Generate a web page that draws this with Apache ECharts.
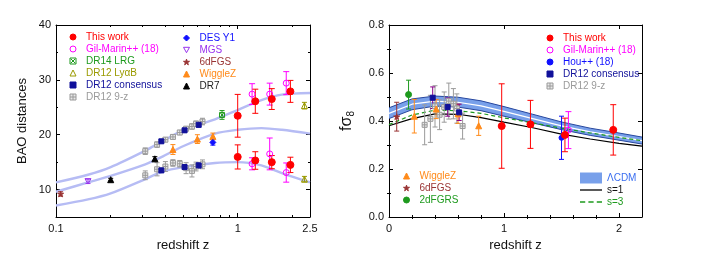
<!DOCTYPE html>
<html><head><meta charset="utf-8">
<script src="https://cdn.jsdelivr.net/npm/echarts@6/dist/echarts.min.js"></script>
<style>html,body{margin:0;padding:0;background:#fff}#c{width:704px;height:256px}</style>
</head><body><div id="c"></div>
<script>
var FONT = 'Liberation Sans, Arial, Helvetica, sans-serif';

// ---------- Left panel: BAO distances (z, value, error) ----------
var curveZ   = [0.1, 0.15, 0.2, 0.31, 0.38, 0.5, 0.75, 1.0, 1.35, 1.75, 2.5];
var curveTop = [11.3, 12.7, 14.1, 17.1, 18.7, 20.8, 22.8, 24.5, 26.3, 27.3, 27.6];
var curveMid = [9.6, 11.3, 12.5, 14.6, 15.9, 17.9, 20.2, 20.9, 21.2, 20.9, 20.2];
var curveBot = [7.1, 8.2, 9.3, 11.9, 13.2, 14.1, 14.85, 15.0, 14.4, 13.0, 11.3];

var thisWorkL = [[1.0,23.45,3.9],[1.25,26.1,2.2],[1.54,26.5,1.9],[1.95,27.9,2.0],
                 [1.0,15.95,2.2],[1.25,15.3,1.6],[1.54,15.0,1.2],[1.95,14.5,1.4]];
var gilMarinL = [[1.2,27.4,1.9],[1.5,27.4,2.0],[1.85,29.4,2.1],
                 [1.2,14.7,1.1],[1.5,16.5,2.9],[1.85,13.1,1.75]];
var dr14L     = [[0.82,23.6,0.8]];
var lyaL      = [[2.33,25.3,0.6],[2.33,11.9,0.5]];
var dr12consL = [[0.38,18.8,0.3],[0.51,20.8,0.35],[0.61,21.8,0.4],
                 [0.38,13.5,0.4],[0.51,14.1,0.4],[0.61,14.4,0.45]];
var dr12nzL   = [[0.31,17.0,0.6],[0.36,18.2,0.5],[0.40,19.1,0.4],[0.44,19.6,0.4],[0.48,20.4,0.4],
                 [0.52,21.1,0.4],[0.56,21.5,0.5],[0.59,22.0,0.5],[0.64,22.4,0.6],
                 [0.31,12.6,0.8],[0.36,13.7,1.2],[0.40,14.2,0.9],[0.44,14.85,0.6],[0.48,14.7,0.6],
                 [0.52,13.9,1.0],[0.56,13.4,1.1],[0.59,14.2,0.8],[0.64,14.6,0.8]];
var desL      = [[0.73,18.6,0.5]];
var mgsL      = [[0.15,11.5,0.4]];
var sixdfL    = [[0.106,9.2,0.4]];
var wiggleL   = [[0.44,17.3,0.9],[0.60,19.2,0.8],[0.73,19.7,0.6]];
var dr7L      = [[0.2,11.8,0.25],[0.35,15.6,0.4]];

var leftXLabels = [0.1, 1, 2.5];
var leftXMajor  = [0.1, 1];
var leftXMinor  = [0.2,0.3,0.4,0.5,0.6,0.7,0.8,0.9,2];
var leftYLabels = [10, 20, 30, 40];
var leftYMinor  = [5, 15, 25, 35];

// ---------- Right panel: f sigma8 ----------
var modelZ  = [0, 0.2, 0.4, 0.6, 0.8, 1.0, 1.25, 1.5, 1.75, 2.0, 2.2];
var lcdmLo  = [0.410, 0.447, 0.462, 0.458, 0.443, 0.420, 0.392, 0.364, 0.340, 0.320, 0.304];
var lcdmMid = [0.432, 0.470, 0.483, 0.478, 0.463, 0.440, 0.410, 0.380, 0.355, 0.335, 0.318];
var lcdmHi  = [0.455, 0.492, 0.504, 0.499, 0.484, 0.460, 0.428, 0.396, 0.370, 0.350, 0.333];
var s1Line  = [0.380, 0.410, 0.430, 0.428, 0.414, 0.395, 0.372, 0.345, 0.325, 0.307, 0.295];
var s3Line  = [0.385, 0.425, 0.445, 0.443, 0.432, 0.413, 0.392, 0.370, 0.350, 0.332, 0.318];

var thisWorkR = [[0.98,0.379,0.176],[1.23,0.386,0.10],[1.53,0.342,0.07],[1.95,0.363,0.105]];
var gilMarinR = [[1.56,0.362,0.077]];
var houR      = [[1.50,0.330,0.09]];
var dr12consR = [[0.38,0.497,0.045],[0.51,0.458,0.038],[0.61,0.436,0.034]];
var dr12nzR   = [[0.31,0.384,0.083],[0.36,0.409,0.098],[0.40,0.461,0.086],[0.44,0.426,0.062],[0.48,0.458,0.063],
                 [0.52,0.483,0.075],[0.56,0.472,0.063],[0.59,0.452,0.061],[0.64,0.379,0.054]];
var wiggleR   = [[0.22,0.42,0.07],[0.41,0.45,0.04],[0.60,0.43,0.04],[0.78,0.38,0.04]];
var sixdfR    = [[0.067,0.418,0.06]];
var twodfR    = [[0.17,0.51,0.06]];

var rightXLabels = [0, 1, 2];
var rightXMajor  = [1, 2];
var rightXMinor  = [0.2,0.4,0.6,0.8,1.2,1.4,1.6,1.8];
var rightYLabels = [0, 0.2, 0.4, 0.6, 0.8];
var rightYMajor  = [0.2, 0.4, 0.6];
var rightYMinor  = [0.1, 0.3, 0.5, 0.7];

// ---------- colours / symbols ----------
var C = {red:'#ff0000', mag:'#ff00ff', green:'#1e9a1e', olive:'#9a9a00', navy:'#10109a', gray:'#9a9a9a',
         blue:'#1010ff', purple:'#9933ee', brown:'#993333', orange:'#ff8a1a', black:'#000000', cons:'#880088'};
var P_SQX  = 'path://M0,0L10,0L10,10L0,10Z M1.5,1.5L8.5,8.5 M8.5,1.5L1.5,8.5';
var P_SQP  = 'path://M0,0L10,0L10,10L0,10Z M5,0L5,10 M0,5L10,5';
var P_TDN  = 'path://M0,0L10,0L5,9Z';
var P_STAR = 'path://M5,0L6.2,3.6L10,3.6L6.9,5.8L8.1,9.5L5,7.2L1.9,9.5L3.1,5.8L0,3.6L3.8,3.6Z';
var P_LINE = 'path://M0,0L22,0L22,1.3L0,1.3Z';
var P_DASH = 'path://M0,0L5,0L5,1.3L0,1.3Z M8,0L13,0L13,1.3L8,1.3Z M16,0L21,0L21,1.3L16,1.3Z';
var TRANSP = 'rgba(255,255,255,0)';

function xy(arr){ return arr.map(function(d){ return [d[0], d[1]]; }); }

function errSeries(arr, color, xi, yi, cap){
  return {type:'custom', xAxisIndex:xi, yAxisIndex:yi, silent:true, z:3, animation:false,
    data: arr, encode:{x:0, y:1},
    renderItem: function(params, api){
      var x = api.value(0), y = api.value(1), e = api.value(2);
      var a = api.coord([x, y + e]), b = api.coord([x, y - e]), h = cap/2;
      var st = {stroke: color, lineWidth: 1};
      return {type:'group', children:[
        {type:'line', shape:{x1:a[0], y1:a[1], x2:b[0], y2:b[1]}, style:st},
        {type:'line', shape:{x1:a[0]-h, y1:a[1], x2:a[0]+h, y2:a[1]}, style:st},
        {type:'line', shape:{x1:b[0]-h, y1:b[1], x2:b[0]+h, y2:b[1]}, style:st}
      ]};
    }};
}
function scat(name, arr, sym, size, fill, stroke, xi, yi){
  return {type:'scatter', name:name, xAxisIndex:xi, yAxisIndex:yi, z:4, symbol:sym, symbolSize:size,
    symbolKeepAspect:true, data: xy(arr),
    itemStyle:{color:fill, borderColor:stroke, borderWidth:1, opacity:1}};
}
function dataset(name, arr, sym, size, fill, stroke, xi, yi, errColor, cap){
  return [errSeries(arr, errColor || stroke, xi, yi, cap || 5), scat(name, arr, sym, size, fill, stroke, xi, yi)];
}

// ---------- axes ----------
function axes(gi, dim, c){
  var lineSt = {color:'#000', width:1};
  var base = {gridIndex:gi, type:c.type, min:c.min, max:c.max, splitLine:{show:false}};
  if (c.type === 'log') base.logBase = 10;
  var pos1 = dim === 'x' ? 'bottom' : 'left', pos2 = dim === 'x' ? 'top' : 'right';
  var main = Object.assign({}, base, {position:pos1,
    axisLine:{show:true, onZero:false, lineStyle:lineSt},
    axisTick:{show:true, inside:true, length:4, customValues:c.major, lineStyle:lineSt},
    axisLabel:{show:true, customValues:c.labels, fontSize:11, color:'#111', fontFamily:FONT,
               showMinLabel:true, showMaxLabel:true, hideOverlap:false,
               margin: dim === 'x' ? 6 : 5, formatter:c.fmt},
    name:c.name, nameLocation:'middle', nameGap:c.nameGap, nameTextStyle:c.nameStyle});
  var minor = Object.assign({}, base, {position:pos1, axisLine:{show:false},
    axisTick:{show:true, inside:true, length:2, customValues:c.minor, lineStyle:lineSt},
    axisLabel:{show:false}});
  var main2 = Object.assign({}, base, {position:pos2,
    axisLine:{show:true, onZero:false, lineStyle:lineSt},
    axisTick:{show:true, inside:true, length:4, customValues:c.major, lineStyle:lineSt},
    axisLabel:{show:false}});
  var minor2 = Object.assign({}, base, {position:pos2, axisLine:{show:false},
    axisTick:{show:true, inside:true, length:2, customValues:c.minor, lineStyle:lineSt},
    axisLabel:{show:false}});
  return [main, minor, main2, minor2];
}
var titleStyle = {fontSize:13, color:'#111', fontFamily:FONT};
var xAxes = axes(0,'x',{type:'log', min:0.1, max:2.5, labels:leftXLabels, major:leftXMajor, minor:leftXMinor,
                name:'redshift z', nameGap:21, nameStyle:titleStyle})
  .concat(axes(1,'x',{type:'value', min:0, max:2.2, labels:rightXLabels, major:rightXMajor, minor:rightXMinor,
                name:'redshift z', nameGap:21, nameStyle:titleStyle}));
var yAxes = axes(0,'y',{type:'value', min:5, max:40, labels:leftYLabels, major:leftYLabels, minor:leftYMinor,
                name:'BAO distances', nameGap:27, nameStyle:titleStyle})
  .concat(axes(1,'y',{type:'value', min:0, max:0.8, labels:rightYLabels, major:rightYMajor, minor:rightYMinor,
                fmt:function(v){return v.toFixed(1);},
                name:'{a|fσ}{b|8}', nameGap:33,
                nameStyle:{color:'#111', fontFamily:FONT, rich:{a:{fontSize:16, fontFamily:FONT, color:'#111'},
                           b:{fontSize:10, fontFamily:FONT, color:'#111', verticalAlign:'bottom', padding:[8,0,0,0]}}}}));

// ---------- series ----------
var series = [];
function line(data, zArr, color, width, xi, yi, extra){
  return Object.assign({type:'line', xAxisIndex:xi, yAxisIndex:yi, symbol:'none', showSymbol:false, silent:true, z:2,
    data: zArr.map(function(z,i){ return [z, data[i]]; }),
    lineStyle:{color:color, width:width}}, extra || {});
}
var LC = '#b6bcf4';
series.push(line(curveTop, curveZ, LC, 2.4, 0, 0, {smooth:0.3}));
series.push(line(curveMid, curveZ, LC, 2.4, 0, 0, {smooth:0.3}));
series.push(line(curveBot, curveZ, LC, 2.4, 0, 0, {smooth:0.3}));

series = series.concat(
  dataset('DR12 9-z', dr12nzL, P_SQP, 5, '#e8e8e8', C.gray, 0, 0, C.gray, 5),
  dataset('DR12 consensus', dr12consL, 'rect', 5, C.navy, C.navy, 0, 0, C.navy, 5),
  dataset('WiggleZ', wiggleL, 'triangle', 6, C.orange, C.orange, 0, 0, C.orange, 5),
  dataset('DES Y1', desL, 'diamond', 6, C.blue, C.blue, 0, 0, C.blue, 5),
  dataset('DR14 LRG', dr14L, P_SQX, 5, TRANSP, C.green, 0, 0, C.green, 5),
  dataset('DR12 LyαB', lyaL, 'triangle', 6, TRANSP, C.olive, 0, 0, C.olive, 5),
  dataset('MGS', mgsL, P_TDN, 6, TRANSP, C.purple, 0, 0, C.purple, 5),
  dataset('6dFGS', sixdfL, P_STAR, 6, C.brown, C.brown, 0, 0, C.brown, 5),
  dataset('DR7', dr7L, 'triangle', 6, C.black, C.black, 0, 0, C.black, 5),
  dataset('Gil-Marin++ (18)', gilMarinL, 'circle', 6, TRANSP, C.mag, 0, 0, C.mag, 6),
  dataset('This work', thisWorkL, 'circle', 7, C.red, C.red, 0, 0, C.red, 6)
);

// right panel model band
series.push({type:'custom', name:'ΛCDM', xAxisIndex:4, yAxisIndex:4, silent:true, z:1,
  itemStyle:{color:'#78a0ea'},
  data: modelZ.map(function(z,i){ return [z, lcdmLo[i], lcdmHi[i]]; }),
  encode:{x:0, y:[1,2]},
  renderItem:function(params, api){
    if (params.dataIndex !== 0) return null;
    var p = [], i;
    for (i = 0; i < modelZ.length; i++) p.push(api.coord([modelZ[i], lcdmLo[i]]));
    for (i = modelZ.length - 1; i >= 0; i--) p.push(api.coord([modelZ[i], lcdmHi[i]]));
    return {type:'polygon', shape:{points:p}, style:{fill:'#78a0ea'}};
  }});
series.push(line(lcdmLo, modelZ, '#27479e', 1, 4, 4));
series.push(line(lcdmHi, modelZ, '#27479e', 1, 4, 4));
series.push(line(lcdmMid, modelZ, '#ffffff', 1.2, 4, 4));
series.push(line(s1Line, modelZ, '#000000', 1.2, 4, 4, {name:'s=1', itemStyle:{color:'#000000'}}));
series.push(line(s3Line, modelZ, '#1e9a1e', 1.2, 4, 4, {name:'s=3', itemStyle:{color:'#1e9a1e'},
  lineStyle:{color:'#1e9a1e', width:1.2, type:[4,3]}}));

series = series.concat(
  dataset('DR12 9-z', dr12nzR, P_SQP, 5, '#e8e8e8', C.gray, 4, 4, C.gray, 5),
  dataset('WiggleZ', wiggleR, 'triangle', 6, C.orange, C.orange, 4, 4, C.orange, 5),
  dataset('6dFGS', sixdfR, P_STAR, 6, C.brown, C.brown, 4, 4, C.brown, 5),
  dataset('2dFGRS', twodfR, 'circle', 6, C.green, C.green, 4, 4, C.green, 5),
  dataset('DR12 consensus', dr12consR, 'rect', 5, C.navy, C.navy, 4, 4, C.cons, 5),
  dataset('Hou++ (18)', houR, 'circle', 5, C.blue, C.blue, 4, 4, C.blue, 5),
  dataset('Gil-Marin++ (18)', gilMarinR, 'circle', 6, TRANSP, C.mag, 4, 4, C.mag, 6),
  dataset('This work', thisWorkR, 'circle', 7, C.red, C.red, 4, 4, C.red, 6)
);

// ---------- legends ----------
function lg(left, top, items, iw, ih, padL){
  return {left:left, top:top, orient:'vertical', itemWidth:iw, itemHeight:ih, itemGap:0,
    selectedMode:false, padding:0, symbolKeepAspect:true,
    itemStyle:{borderWidth:1},
    textStyle:{fontSize:10, fontFamily:FONT, lineHeight:12, padding:[0,0,0,padL]},
    data: items.map(function(it){
      var o = {name:it[0], textStyle:{color:it[1], fontSize:10, fontFamily:FONT, lineHeight:12, padding:[0,0,0,padL]}};
      if (it[2]) o.icon = it[2];
      if (it[3]) o.itemStyle = it[3];
      return o;
    })};
}
var legends = [
  lg(69.5, 31, [['This work',C.red],['Gil-Marin++ (18)',C.mag],['DR14 LRG',C.green],['DR12 LyαB',C.olive],
              ['DR12 consensus',C.navy],['DR12 9-z',C.gray]], 6, 6, 5),
  lg(183, 32, [['DES Y1',C.blue],['MGS',C.purple],['6dFGS',C.brown],['WiggleZ',C.orange],['DR7','#222']], 6, 6, 5),
  lg(546.5, 32, [['This work',C.red],['Gil-Marin++ (18)',C.mag],['Hou++ (18)',C.blue],
               ['DR12 consensus',C.navy],['DR12 9-z',C.gray]], 6, 6, 5),
  lg(403, 170, [['WiggleZ',C.orange],['6dFGS',C.brown],['2dFGRS',C.green]], 6, 6, 5),
  lg(580, 172, [['ΛCDM','#3a6ef0','rect',{color:'#78a0ea', borderWidth:0}],['s=1','#111',P_LINE],['s=3',C.green,P_DASH]], 22, 11, 0)
];

var chart = echarts.init(document.getElementById('c'), null, {renderer:'canvas'});
chart.setOption({
  animation:false,
  backgroundColor:'#ffffff',
  textStyle:{fontFamily:FONT},
  grid:[{left:56, top:25, width:254, height:192, containLabel:false, outerBoundsMode:'none'},
        {left:389, top:25, width:253, height:192, containLabel:false, outerBoundsMode:'none'}],
  xAxis:xAxes, yAxis:yAxes, legend:legends, series:series
});
</script></body></html>
